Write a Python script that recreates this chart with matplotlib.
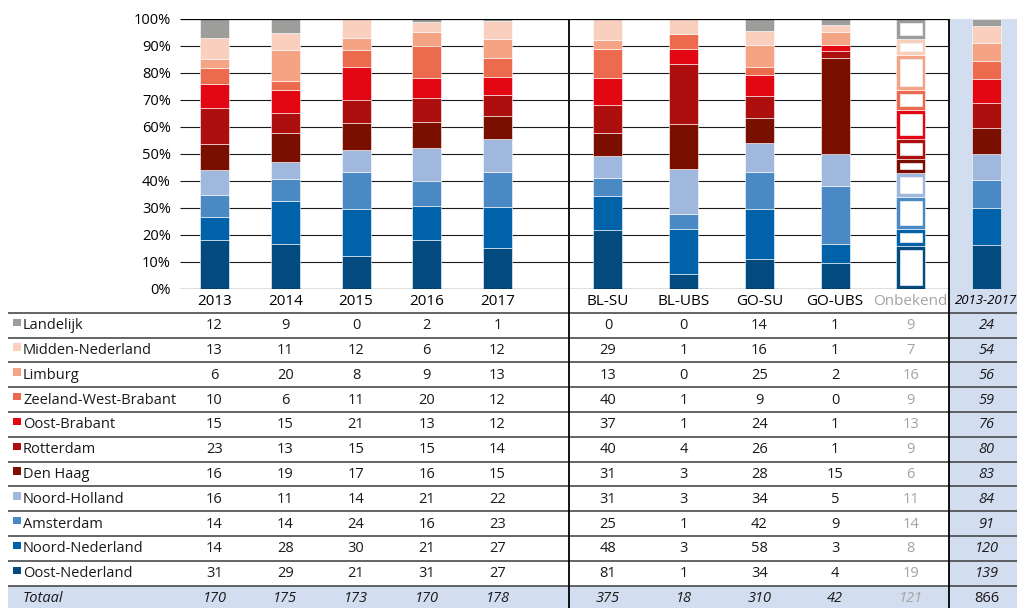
import matplotlib
matplotlib.use('Agg')
import matplotlib.pyplot as plt
from matplotlib.patches import Rectangle
import numpy as np

plt.rcParams['font.family'] = ['Open Sans', 'DejaVu Sans']

# ---------------- data ----------------
columns = ['2013', '2014', '2015', '2016', '2017',
           'BL-SU', 'BL-UBS', 'GO-SU', 'GO-UBS', 'Onbekend', '2013-2017']
regions = ['Landelijk', 'Midden-Nederland', 'Limburg', 'Zeeland-West-Brabant',
           'Oost-Brabant', 'Rotterdam', 'Den Haag', 'Noord-Holland',
           'Amsterdam', 'Noord-Nederland', 'Oost-Nederland']
colors = ['#9d9d9c', '#f9cfbe', '#f4a384', '#ec6a4d', '#e30613', '#ad0e0e',
          '#7a0f00', '#a1b8de', '#4a89c3', '#0062a8', '#034a7f']

landelijk       = [12, 9, 0, 2, 1, 0, 0, 14, 1, 9, 24]
midden_ned      = [13, 11, 12, 6, 12, 29, 1, 16, 1, 7, 54]
limburg         = [6, 20, 8, 9, 13, 13, 0, 25, 2, 16, 56]
zeeland_wb      = [10, 6, 11, 20, 12, 40, 1, 9, 0, 9, 59]
oost_brabant    = [15, 15, 21, 13, 12, 37, 1, 24, 1, 13, 76]
rotterdam       = [23, 13, 15, 15, 14, 40, 4, 26, 1, 9, 80]
den_haag        = [16, 19, 17, 16, 15, 31, 3, 28, 15, 6, 83]
noord_holland   = [16, 11, 14, 21, 22, 31, 3, 34, 5, 11, 84]
amsterdam       = [14, 14, 24, 16, 23, 25, 1, 42, 9, 14, 91]
noord_ned       = [14, 28, 30, 21, 27, 48, 3, 58, 3, 8, 120]
oost_ned        = [31, 29, 21, 31, 27, 81, 1, 34, 4, 19, 139]
totaal          = [170, 175, 173, 170, 178, 375, 18, 310, 42, 121, 866]

values = [landelijk, midden_ned, limburg, zeeland_wb, oost_brabant, rotterdam,
          den_haag, noord_holland, amsterdam, noord_ned, oost_ned]

# ---------------- layout ----------------
W, H = 1017, 608
fig = plt.figure(figsize=(W / 100, H / 100), dpi=100)
bg = fig.add_axes([0, 0, 1, 1])
bg.set_xlim(0, W)
bg.set_ylim(H, 0)
bg.axis('off')

y0px, y100px = 288.7, 19.0
ax_left = 180
sep1, sep2 = 569.3, 949.3
ax = fig.add_axes([ax_left / W, (H - y0px) / H, (W - ax_left) / W, (y0px - y100px) / H])
ax.set_xlim(ax_left, W)
ax.set_ylim(0, 100)
ax.patch.set_visible(False)
for s in ax.spines.values():
    s.set_visible(False)

shade = '#d3ddf0'
gray_txt = '#a3a3a3'
line_col = '#3a3a3a'
fs = 10.5

# bar x positions
pos = [214.5 + 70.75 * i for i in range(5)] + [608 + 75.7 * j for j in range(6)]
bw = 29

# background shading
bg.add_patch(Rectangle((sep2, y100px), W - sep2, H - y100px, color=shade, zorder=0, lw=0))
row_top = 312.7
row_h = 24.8
tot_top = row_top + row_h * 11
bg.add_patch(Rectangle((8, tot_top), W - 8, H - tot_top, color=shade, zorder=0, lw=0))

# gridlines
ax.hlines(np.arange(10, 100, 10), ax_left, sep2, color='#1a1a1a', lw=0.8, zorder=1)
ax.hlines([0, 100], ax_left, sep2, color='#000000', lw=0.9, zorder=6)

# stacked bars
px_per_pct = (y0px - y100px) / 100.0
dx_in = 3.7
dy_in = 4.0 / px_per_pct
for c in range(len(columns)):
    bottom = 0.0
    for r in range(len(regions) - 1, -1, -1):
        pct = values[r][c] / totaal[c] * 100.0
        if pct <= 0:
            continue
        ax.bar(pos[c], pct, bottom=bottom, width=bw, color=colors[r],
               edgecolor='white', linewidth=0.4, zorder=3)
        if columns[c] == 'Onbekend' and pct > 2 * dy_in:
            ax.bar(pos[c], pct - 2 * dy_in, bottom=bottom + dy_in, width=bw - 2 * dx_in,
                   color='white', edgecolor='#f2f2f2', linewidth=0.5, zorder=4)
        bottom += pct

# axes ticks
ax.set_yticks(np.arange(0, 101, 10))
ax.set_yticklabels([f'{v}%' for v in range(0, 101, 10)], fontsize=fs)
ax.set_xticks(pos)
ax.set_xticklabels(columns, fontsize=fs + 0.5)
ax.tick_params(axis='y', length=0, pad=6.5)
ax.tick_params(axis='x', length=0, pad=4)
xl = ax.get_xticklabels()
xl[9].set_color(gray_txt)
xl[10].set_style('italic')
xl[10].set_fontsize(9.5)

# vertical separators
bg.vlines([sep1, sep2], y100px, H, color='#000000', lw=1.3, zorder=5)

# table lines
for k in range(12):
    y = row_top + row_h * k
    bg.hlines(y, 8, W, color=line_col, lw=1.1, zorder=4)

# table rows
for r, name in enumerate(regions):
    yc = row_top + row_h * (r + 0.5)
    bg.add_patch(Rectangle((13, yc - 6.5), 7.5, 7.3, color=colors[r], lw=0, zorder=3))
    bg.text(23, yc + 4.2, name, fontsize=fs, va='baseline', ha='left', color='#1a1a1a')
    for c in range(len(columns)):
        col = gray_txt if columns[c] == 'Onbekend' else '#1a1a1a'
        style = 'italic' if c == 10 else 'normal'
        bg.text(pos[c], yc + 4.2, str(values[r][c]), fontsize=fs, va='baseline',
                ha='center', color=col, style=style)

yc = row_top + row_h * 11.5
bg.text(23, yc + 4.2, 'Totaal', fontsize=fs, va='baseline', ha='left',
        color='#1a1a1a', style='italic')
for c in range(len(columns)):
    col = gray_txt if columns[c] == 'Onbekend' else '#1a1a1a'
    style = 'normal' if c == 10 else 'italic'
    bg.text(pos[c], yc + 4.2, str(totaal[c]), fontsize=fs, va='baseline',
            ha='center', color=col, style=style)

fig.savefig('out.png', dpi=100)
